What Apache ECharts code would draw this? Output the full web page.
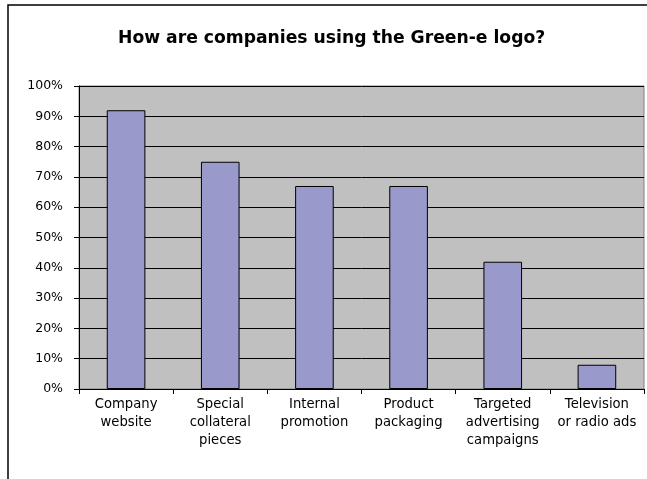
<!DOCTYPE html>
<html><head><meta charset="utf-8">
<script src="https://cdn.jsdelivr.net/npm/echarts@6/dist/echarts.min.js"></script>
<style>html,body{margin:0;padding:0;background:#fff}#c{width:647px;height:479px}</style>
</head><body><div id="c"></div>
<script>
const categories = ['Company\nwebsite','Special\ncollateral\npieces','Internal\npromotion','Product\npackaging','Targeted\nadvertising\ncampaigns','Television\nor radio ads'];
const values = [92, 75, 67, 67, 42, 8];
const chart = echarts.init(document.getElementById('c'));
chart.setOption({
  animation: false,
  backgroundColor: '#fff',
  title: {text: 'How are companies using the Green-e logo?', left: 113, top: 25,
    textStyle: {fontFamily: 'DejaVu Sans', fontSize: 17.2, fontWeight: 'bold', color: '#000'}},
  graphic: [{type: 'rect', shape: {x: 8, y: 5, width: 660, height: 500}, style: {fill: 'none', stroke: '#000', lineWidth: 1.5}, z: 100}],
  grid: {left: 79, right: 3, top: 86, bottom: 90, backgroundColor: '#c0c0c0', show: true, borderColor: '#808080', borderWidth: 1},
  xAxis: {type: 'category', data: categories,
    axisLine: {lineStyle: {color: '#000'}}, axisTick: {show: true, length: 5, lineStyle: {color: '#000'}},
    axisLabel: {color: '#000', fontFamily: 'DejaVu Sans', fontSize: 13.2, lineHeight: 18, margin: 7, interval: 0}},
  yAxis: {type: 'value', min: 0, max: 100, interval: 10,
    axisLine: {show: true, lineStyle: {color: '#000'}}, axisTick: {show: true, length: 5, lineStyle: {color: '#000'}},
    splitLine: {lineStyle: {color: '#000', width: 1}},
    axisLabel: {formatter: '{value}%', color: '#000', fontFamily: 'DejaVu Sans', fontSize: 12.5, margin: 16}},
  series: [{type: 'bar', data: values, barWidth: '41%',
    itemStyle: {color: '#9999cc', borderColor: '#000', borderWidth: 1}}]
});
</script></body></html>
